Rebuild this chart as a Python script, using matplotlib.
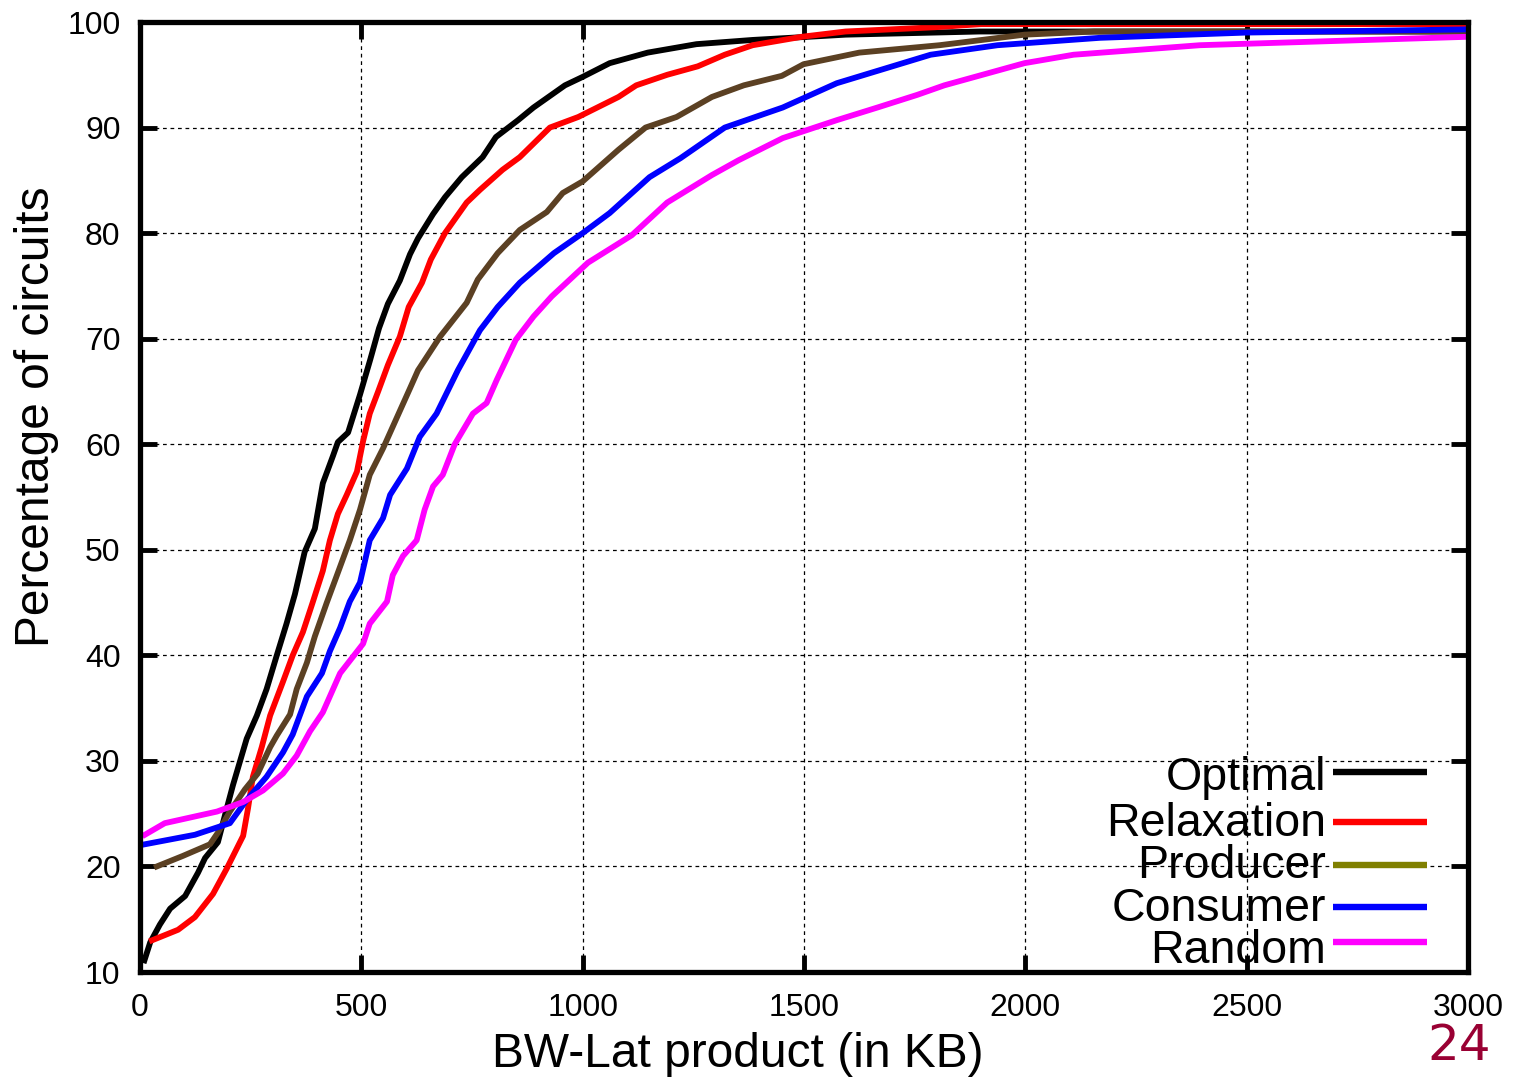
import matplotlib
matplotlib.use("Agg")
import matplotlib.pyplot as plt

plt.rcParams['font.family'] = ['Liberation Sans', 'DejaVu Sans']

# curve data (x in KB, y in percent)
opt_x = [10, 23, 45, 68, 102, 131, 147, 176, 196, 210, 241, 264, 286, 309, 331, 350, 372,
         395, 413, 436, 447, 470, 497, 520, 540, 560, 587, 610, 628, 662, 689, 727, 774,
         804, 854, 889, 960, 1000, 1061, 1147, 1257, 1384, 1594, 1897, 2500, 3000]
opt_y = [11.1, 12.8, 14.5, 16.0, 17.2, 19.4, 20.8, 22.3, 25.5, 27.7, 32.1, 34.3, 36.8, 40.0,
         43.0, 45.8, 49.8, 52.0, 56.3, 58.9, 60.2, 61.1, 64.7, 68.0, 71.0, 73.3, 75.5, 78.0,
         79.5, 81.8, 83.4, 85.3, 87.2, 89.1, 90.7, 91.9, 94.0, 94.8, 96.1, 97.1, 97.9, 98.3,
         98.8, 99.1, 99.1, 99.1]

rel_x = [27, 86, 124, 165, 196, 233, 244, 255, 275, 294, 323, 345, 368, 390, 413, 429, 447,
         467, 490, 504, 519, 538, 560, 587, 607, 637, 657, 689, 738, 768, 819, 858, 926, 990,
         1081, 1121, 1191, 1260, 1321, 1384, 1495, 1594, 1795, 1900, 3000]
rel_y = [13.0, 14.0, 15.2, 17.4, 19.8, 22.9, 25.5, 28.5, 31.3, 34.3, 37.5, 40.0, 42.2, 45.0,
         48.0, 50.9, 53.4, 55.2, 57.4, 60.3, 62.9, 65.0, 67.5, 70.2, 73.0, 75.3, 77.5, 80.0,
         82.9, 84.1, 86.0, 87.2, 90.0, 91.0, 92.9, 94.0, 95.0, 95.8, 96.9, 97.8, 98.6, 99.1,
         99.5, 99.8, 99.8]

prod_x = [38, 97, 158, 176, 203, 237, 266, 294, 309, 339, 354, 377, 395, 422, 445, 474, 497,
          519, 549, 580, 610, 628, 678, 738, 763, 808, 858, 919, 955, 1000, 1081, 1142, 1212,
          1292, 1364, 1450, 1499, 1625, 1806, 1998, 2156, 3000]
prod_y = [20.0, 21.0, 22.1, 23.2, 25.2, 27.3, 28.8, 31.3, 32.4, 34.4, 36.8, 39.3, 41.8, 45.0,
          47.6, 50.9, 53.8, 57.1, 59.6, 62.5, 65.3, 67.0, 70.2, 73.4, 75.6, 78.1, 80.3, 82.0,
          83.8, 84.9, 87.9, 90.0, 91.0, 92.9, 94.0, 94.9, 96.0, 97.1, 97.8, 98.8, 99.1, 99.1]

cons_x = [11, 124, 203, 241, 286, 323, 345, 377, 411, 429, 452, 474, 497, 519, 549, 565, 603,
          632, 670, 718, 768, 808, 858, 935, 1000, 1061, 1151, 1221, 1321, 1452, 1574, 1786,
          1937, 2168, 2500, 3000]
cons_y = [22.1, 23.0, 24.1, 26.3, 28.5, 30.8, 32.5, 36.1, 38.3, 40.4, 42.6, 45.1, 46.9, 50.9,
          53.0, 55.2, 57.7, 60.7, 62.9, 67.0, 70.8, 73.0, 75.3, 78.1, 80.0, 81.9, 85.3, 87.1,
          90.0, 91.9, 94.2, 96.9, 97.8, 98.5, 99.0, 99.3]

rand_x = [11, 56, 174, 233, 278, 323, 354, 384, 413, 452, 504, 519, 558, 571, 594, 625, 643,
          662, 684, 711, 752, 783, 806, 849, 889, 930, 1012, 1111, 1191, 1292, 1352, 1452, 1574,
          1666, 1756, 1817, 1998, 2109, 2394, 3000]
rand_y = [23.0, 24.1, 25.2, 26.1, 27.2, 28.8, 30.5, 32.8, 34.6, 38.3, 41.1, 43.0, 45.1, 47.6,
          49.4, 50.9, 53.8, 56.0, 57.1, 60.0, 62.9, 63.9, 66.1, 69.9, 72.1, 74.0, 77.2, 79.8,
          82.9, 85.5, 86.9, 89.0, 90.7, 91.9, 93.1, 94.0, 96.1, 96.9, 97.8, 98.6]

series = [
    ("Optimal", opt_x, opt_y, "#000000", "#000000"),
    ("Relaxation", rel_x, rel_y, "#ff0000", "#ff0000"),
    ("Producer", prod_x, prod_y, "#5b4023", "#808000"),
    ("Consumer", cons_x, cons_y, "#0000ff", "#0000ff"),
    ("Random", rand_x, rand_y, "#ff00ff", "#ff00ff"),
]

x_ticks = [0, 500, 1000, 1500, 2000, 2500, 3000]
y_ticks = [10, 20, 30, 40, 50, 60, 70, 80, 90, 100]

fig = plt.figure(figsize=(15.18, 10.79), dpi=100)
ax = fig.add_axes([140 / 1518, 107 / 1079, 1328 / 1518, 950 / 1079])

for name, xs, ys, col, lcol in series:
    ax.plot(xs, ys, color=col, lw=4.2)

ax.set_xlim(0, 3000)
ax.set_ylim(10, 100)
ax.set_xticks(x_ticks)
ax.set_yticks(y_ticks)
ax.grid(True, color='black', ls=(0, (3, 3)), lw=0.9)
ax.tick_params(direction='in', length=12, width=3.5, top=True, right=True,
               labelsize=23)
ax.tick_params(axis='x', pad=15)
ax.tick_params(axis='y', pad=14)
for s in ax.spines.values():
    s.set_linewidth(3.8)

ax.set_xlabel("BW-Lat product (in KB)", fontsize=34.5)
ax.set_ylabel("Percentage of circuits", fontsize=34.5)
ax.xaxis.set_label_coords(0.450, -0.087)
ax.yaxis.set_label_coords(-0.078, 0.585)
ax.xaxis.label.set_va('center')
ax.yaxis.label.set_va('center')

# legend drawn by hand to follow the uneven row spacing of the original
line_rows = [0.2105, 0.1579, 0.1126, 0.0684, 0.0316]
text_rows = [0.1916, 0.1432, 0.0989, 0.0537, 0.0095]
for (name, xs, ys, col, lcol), ly, ty in zip(series, line_rows, text_rows):
    ax.plot([0.898, 0.969], [ly, ly], color=lcol, lw=4.6, transform=ax.transAxes,
            clip_on=False, solid_capstyle='butt')
    ax.text(0.893, ty, name, ha='right', va='baseline', fontsize=33.5,
            transform=ax.transAxes)

fig.text(1491 / 1518, 1 - 1046 / 1079, "24", color='#990033', fontsize=36,
         ha='right', va='center', family='DejaVu Sans')

fig.savefig("out.png", dpi=100)
